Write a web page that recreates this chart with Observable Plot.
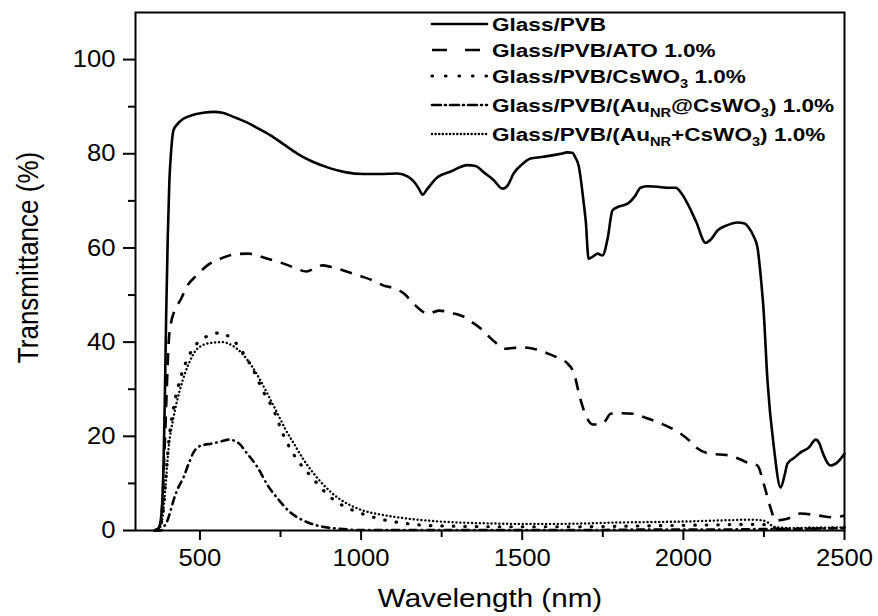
<!DOCTYPE html>
<html>
<head>
<meta charset="utf-8">
<script src="https://cdn.jsdelivr.net/npm/d3@7"></script>
<script src="https://cdn.jsdelivr.net/npm/@observablehq/plot@0.6"></script>
<style>
  html, body { margin: 0; padding: 0; background: #fff; }
  #chart { width: 878px; height: 616px; }
</style>
</head>
<body>
<div id="chart"></div>
<script>
// ---------- data ----------
const xLabel = "Wavelength (nm)";
const yLabel = "Transmittance (%)";
const xMajor = [500, 1000, 1500, 2000, 2500];
const xMinor = [750, 1250, 1750, 2250];
const yMajor = [0, 20, 40, 60, 80, 100];
const yMinor = [10, 30, 50, 70, 90];

const seriesNames = [
  "Glass/PVB",
  "Glass/PVB/ATO 1.0%",
  "Glass/PVB/CsWO_{3} 1.0%",
  "Glass/PVB/(Au_{NR}@CsWO_{3}) 1.0%",
  "Glass/PVB/(Au_{NR}+CsWO_{3}) 1.0%"
];

const pvbWl = [360, 372, 378, 383, 387, 391, 395, 400, 405, 410, 418, 430, 450, 480, 510, 542, 570, 595, 620, 647, 680, 719, 760, 803, 850, 905, 950, 1008, 1060, 1113, 1144, 1165, 1180, 1191, 1205, 1237, 1280, 1330, 1355, 1380, 1410, 1439, 1455, 1473, 1500, 1526, 1560, 1588, 1620, 1640, 1655, 1665, 1675, 1681, 1690, 1697, 1706, 1720, 1734, 1749, 1765, 1780, 1800, 1827, 1850, 1867, 1890, 1920, 1950, 1976, 1995, 2013, 2040, 2069, 2085, 2106, 2135, 2168, 2190, 2203, 2218, 2230, 2240, 2249, 2261, 2281, 2302, 2315, 2323, 2345, 2364, 2389, 2411, 2422, 2432, 2457, 2475, 2500];
const pvbT  = [0, 0.5, 2, 6, 14, 28, 45, 62, 74, 80, 85, 86.3, 87.5, 88.3, 88.7, 88.9, 88.7, 88.1, 87.4, 86.6, 85.4, 83.9, 82, 80, 78.3, 76.9, 76.1, 75.7, 75.7, 75.8, 75.2, 74, 72.5, 71.3, 72.5, 75, 76.3, 77.6, 77.4, 76.1, 74.5, 72.6, 73.3, 75.8, 77.8, 79, 79.3, 79.6, 80, 80.3, 80.2, 79.2, 77.5, 75, 70, 65.8, 57.7, 58.2, 58.8, 58.4, 62, 68, 68.8, 69.4, 71, 72.8, 73.1, 73, 72.8, 72.8, 71.5, 69.4, 65.5, 61.1, 61.8, 63.7, 64.8, 65.4, 65.2, 64.3, 62.5, 60.1, 54, 46.7, 31.8, 17.6, 9.1, 12, 14.2, 15.5, 16.6, 17.6, 19.3, 18.5, 16.6, 13.8, 14.3, 16.3];

const atoWl = [360, 372, 380, 385, 389, 393, 397, 403, 410, 420, 440, 461, 490, 523, 560, 605, 650, 710, 750, 790, 830, 860, 880, 905, 950, 1000, 1040, 1070, 1107, 1135, 1160, 1185, 1206, 1241, 1287, 1318, 1345, 1371, 1395, 1417, 1448, 1495, 1535, 1579, 1610, 1640, 1660, 1680, 1700, 1720, 1740, 1759, 1774, 1810, 1846, 1880, 1920, 1960, 1991, 2020, 2044, 2085, 2137, 2170, 2199, 2230, 2249, 2271, 2286, 2300, 2323, 2364, 2417, 2466, 2500];
const atoT  = [0, 0.5, 3, 8, 15, 22, 30, 40, 44, 46.5, 49, 52, 54.2, 56.3, 57.6, 58.6, 58.8, 57.7, 56.9, 55.9, 55, 55.8, 56.3, 56, 55.1, 54, 53, 52, 51.4, 50.2, 48.4, 46.8, 46, 46.7, 46.1, 45.4, 44.2, 42.9, 41.3, 39.9, 38.6, 38.9, 38.6, 37.6, 36.7, 35.5, 33.5, 28, 24, 22.5, 22.5, 23.4, 24.8, 24.9, 24.8, 24, 23, 21.8, 20.6, 19, 17.4, 16.3, 16, 15.3, 14.4, 13.8, 10, 4.7, 2.1, 2.2, 2.5, 3.6, 3.2, 2.8, 3.2];

const cswoWl = [360, 372, 384, 393, 402, 418, 440, 465, 492, 520, 545, 564, 585, 605, 636, 663, 698, 725, 760, 803, 837, 870, 899, 943, 990, 1039, 1090, 1138, 1194, 1300, 1400, 1500, 1600, 1700, 1800, 1900, 2000, 2100, 2200, 2260, 2280, 2300, 2400, 2500];
const cswoT  = [0, 0.3, 3, 10, 18, 26, 32.5, 37, 39.8, 41.2, 41.8, 42, 41.4, 40.3, 37.5, 34.4, 29.3, 26.1, 20.1, 14.9, 12.1, 9.5, 7.4, 5.3, 3.9, 2.8, 2, 1.5, 1.1, 0.9, 0.8, 0.8, 0.8, 0.8, 0.9, 1, 1.1, 1.2, 1.3, 1.2, 0.6, 0.4, 0.5, 0.6];

const atCsWl = [360, 378, 388, 399, 408, 418, 432, 449, 465, 480, 502, 540, 570, 589, 617, 647, 679, 710, 741, 781, 810, 843, 880, 927, 1008, 1100, 1300, 1500, 1700, 1900, 2100, 2250, 2300, 2400, 2500];
const atCsT  = [0, 0, 0.8, 2.1, 4, 6.4, 9, 11.3, 14.2, 16.6, 18, 18.5, 19, 19.3, 18.7, 16.3, 13.4, 9.6, 6.8, 3.8, 2.5, 1.5, 0.8, 0.4, 0.1, 0.1, 0.1, 0.1, 0.1, 0.2, 0.2, 0.3, 0.3, 0.4, 0.5];

const plusCsWl = [360, 371, 378, 384, 393, 402, 418, 440, 465, 492, 530, 570, 600, 632, 660, 688, 715, 741, 765, 791, 820, 853, 890, 927, 965, 1008, 1060, 1113, 1160, 1206, 1300, 1400, 1500, 1600, 1700, 1800, 1900, 2000, 2100, 2150, 2200, 2240, 2260, 2280, 2300, 2350, 2400, 2450, 2500];
const plusCsT  = [0, 0, 1, 2.8, 9.1, 17, 24, 30.4, 35.4, 38.6, 39.8, 40, 39.3, 37.5, 35, 31.8, 28.3, 24.8, 21.5, 18.5, 15.2, 12.1, 9.2, 7, 5.4, 4.2, 3.4, 2.8, 2.4, 2.1, 1.7, 1.5, 1.4, 1.4, 1.5, 1.7, 1.8, 1.9, 2.1, 2.2, 2.3, 2.2, 1.8, 0.8, 0.6, 0.5, 0.6, 0.6, 0.7];

// ---------- styles ----------
const lineStyles = [
  {dash: null,          cap: "round", width: 2.6},
  {dash: "12,9",        cap: "butt",  width: 2.6},
  {dash: "0.5,11",      cap: "round", width: 3.2},
  {dash: "7,5,0.5,5",   cap: "round", width: 2.6},
  {dash: "0.1,3.8",     cap: "round", width: 2.4}
];
const legendDash = [null, "15,18", "0.5,13", "9,4,1,4", "0.1,3.5"];

const seriesWl = [pvbWl, atoWl, cswoWl, atCsWl, plusCsWl];
const seriesT  = [pvbT, atoT, cswoT, atCsT, plusCsT];

const rows = [];
seriesNames.forEach((name, i) => {
  seriesWl[i].forEach((w, j) => rows.push({series: name, idx: i, wl: w, t: seriesT[i][j]}));
});

const font = "'Liberation Sans', Arial, Helvetica, sans-serif";

function richText(sel, str, subSize, shift) {
  const parts = str.split(/_\{([^}]*)\}/);
  let pendingUp = false;
  parts.forEach((p, k) => {
    if (p === "") return;
    const ts = sel.append("tspan").text(p);
    if (k % 2 === 1) {
      ts.attr("font-size", subSize).attr("dy", shift);
      pendingUp = true;
    } else if (pendingUp) {
      ts.attr("dy", -shift);
      pendingUp = false;
    }
  });
}

function legendMark(index, scales, values, dims) {
  const g = d3.create("svg:g").attr("aria-label", "legend");
  const baselines = [31, 57, 83, 112, 141];
  const lx1 = 432, lx2 = 487, tx = 492;
  seriesNames.forEach((name, i) => {
    const yb = baselines[i];
    const ly = yb - 7;
    const st = lineStyles[i];
    const ln = g.append("line")
      .attr("x1", lx1).attr("x2", lx2).attr("y1", ly).attr("y2", ly)
      .attr("stroke", "black").attr("stroke-width", st.width)
      .attr("stroke-linecap", st.cap);
    if (legendDash[i]) ln.attr("stroke-dasharray", legendDash[i]);
    const t = g.append("text")
      .attr("transform", `translate(${tx},${yb}) scale(1.22,1)`)
      .attr("text-anchor", "start")
      .attr("font-family", font).attr("font-weight", "bold")
      .attr("font-size", 18.5).attr("fill", "black");
    richText(t, name, 12, 5);
  });
  return g.node();
}

const lineMarks = seriesNames.map((name, i) => Plot.line(rows.filter(d => d.idx === i), {
  x: "wl", y: "t", stroke: "black",
  strokeWidth: lineStyles[i].width,
  strokeDasharray: lineStyles[i].dash || undefined,
  strokeLinecap: lineStyles[i].cap,
  strokeLinejoin: "round",
  curve: "monotone-x"
}));

const chart = Plot.plot({
  width: 878,
  height: 616,
  marginLeft: 135,
  marginRight: 34,
  marginTop: 12,
  marginBottom: 86,
  x: {domain: [300, 2500]},
  y: {domain: [0, 110]},
  style: {fontFamily: font, background: "white", color: "black"},
  marks: [
    Plot.axisX({ticks: xMajor, tickSize: 10, tickPadding: 8, fontSize: 24, strokeWidth: 2, label: null, tickFormat: d => String(d)}),
    Plot.axisX({ticks: xMinor, tickSize: 7, strokeWidth: 2, text: null, label: null}),
    Plot.axisY({ticks: yMajor, tickSize: 12, tickPadding: 8, fontSize: 24, strokeWidth: 2, label: null, tickFormat: d => String(d)}),
    Plot.axisY({ticks: yMinor, tickSize: 7, strokeWidth: 2, text: null, label: null}),
    ...lineMarks,
    Plot.frame({strokeWidth: 2}),
    Plot.text([xLabel], {frameAnchor: "bottom", textAnchor: "middle", lineAnchor: "middle", dy: 68, text: d => d, fontSize: 26}),
    Plot.text([yLabel], {frameAnchor: "left", textAnchor: "middle", lineAnchor: "middle", rotate: -90, dx: -107, dy: -14, text: d => d, fontSize: 26}),
    legendMark
  ]
});

document.getElementById("chart").appendChild(chart);

// horizontal stretch of text glyphs (the reference is horizontally stretched)
function stretch(t, sx, sy) {
  const tr = t.getAttribute("transform") || "";
  const xs = t.getAttribute("x");
  const x = (xs && /^[-\d.]+$/.test(xs)) ? parseFloat(xs) : 0;
  if (x !== 0) {
    t.setAttribute("transform", `${tr} translate(${x},0) scale(${sx},${sy}) translate(${-x},0)`);
  } else {
    t.setAttribute("transform", `${tr} scale(${sx},${sy})`);
  }
}
chart.querySelectorAll('g[aria-label="x-axis tick label"] text, g[aria-label="y-axis tick label"] text')
  .forEach(t => stretch(t, 1.07, 1));
chart.querySelectorAll('g[aria-label="text"] text').forEach(t => {
  const tr = t.getAttribute("transform") || "";
  if (tr.includes("rotate")) stretch(t, 1, 1.14); else stretch(t, 1.14, 1);
});
</script>
</body>
</html>
